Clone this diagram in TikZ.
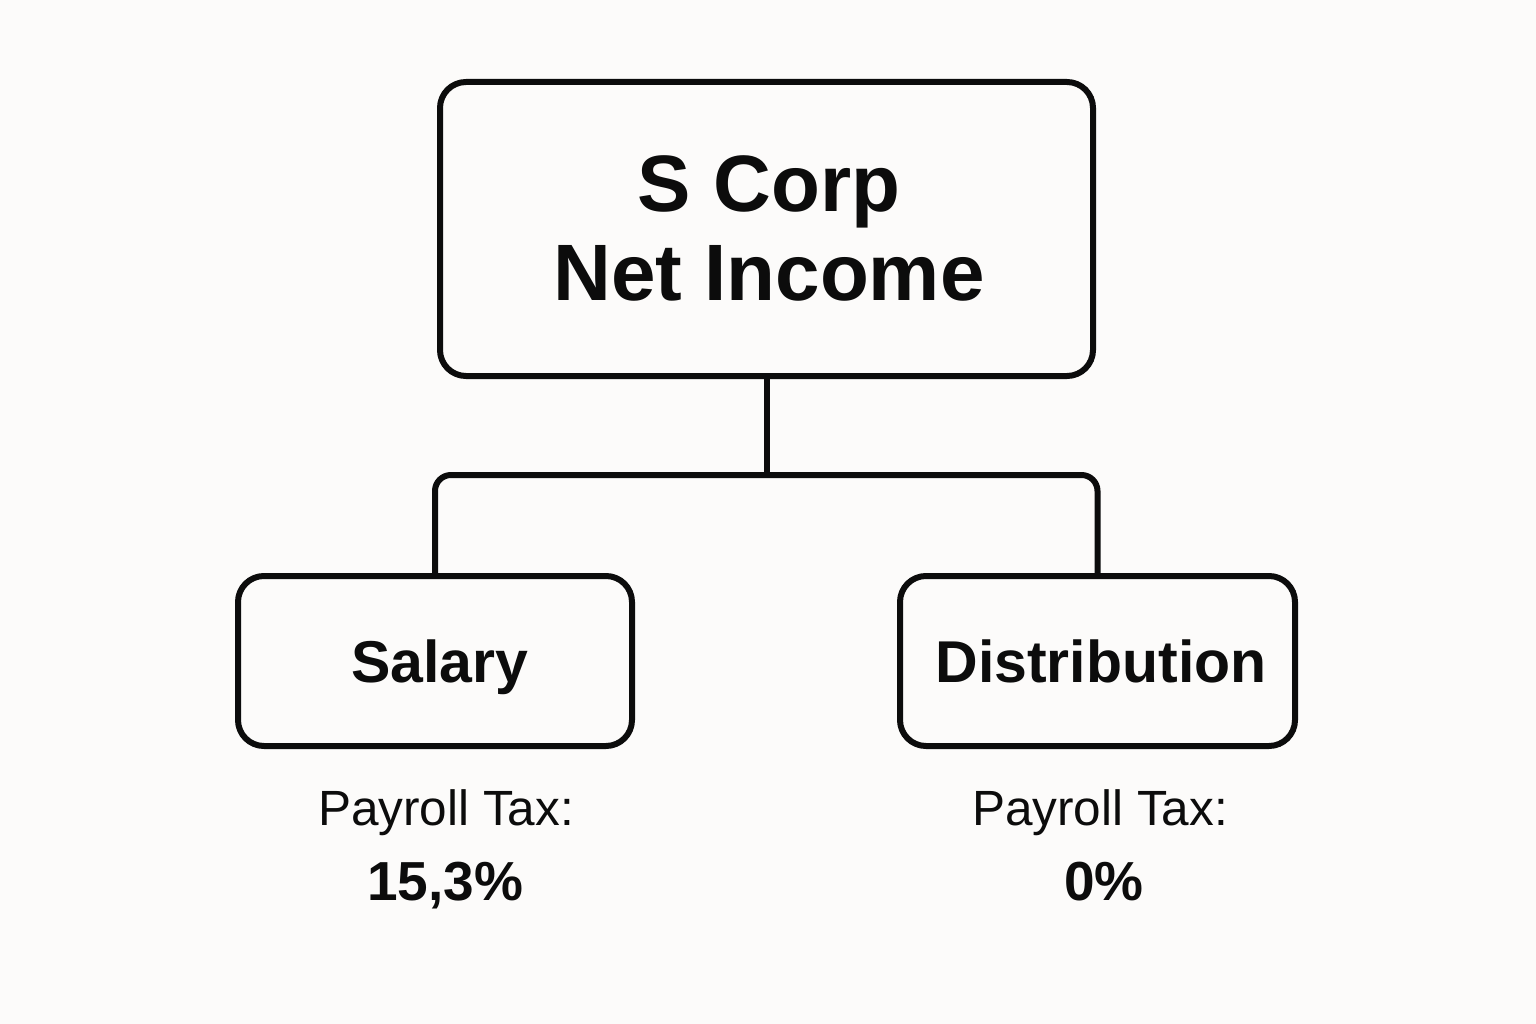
\documentclass[tikz,border=0pt]{standalone}
\usepackage{fontspec}
\setmainfont{Liberation Sans}
\definecolor{bg}{RGB}{252,251,250}
\definecolor{ink}{RGB}{12,12,12}
\begin{document}
\begin{tikzpicture}[x=1pt,y=-1pt,
  box/.style={draw=ink, line width=6pt, rounded corners=26pt, inner sep=0pt},
  conn/.style={draw=ink, line width=6pt, rounded corners=16pt},
  bigtxt/.style={anchor=base, text=ink, inner sep=0pt, font=\fontsize{80}{88}\selectfont\bfseries},
  midtxt/.style={anchor=base, text=ink, inner sep=0pt, font=\fontsize{59}{66}\selectfont\bfseries},
  taxtxt/.style={anchor=base, text=ink, inner sep=0pt, font=\fontsize{49.5}{56}\selectfont},
  pcttxt/.style={anchor=base, text=ink, inner sep=0pt, font=\fontsize{55}{62}\selectfont\bfseries}]
\fill[bg] (0,0) rectangle (1536,1024);
\useasboundingbox (0,0) rectangle (1536,1024);
% boxes
\node[box, minimum width=653pt, minimum height=294pt] (top) at (766.5,229) {};
\node[box, minimum width=394pt, minimum height=170pt] (sal) at (435,661) {};
\node[box, minimum width=395pt, minimum height=170pt] (dist) at (1097.5,661) {};
% texts
\node[bigtxt] (t1) at (769,212) {S Corp};
\node[bigtxt] (t2) at (769,300) {Net Income};
\node[midtxt] (salt) at (440,682) {Salary};
\node[midtxt] (distt) at (1101,682) {Distribution};
\node[taxtxt] (tax1) at (446,825) {Payroll Tax:};
\node[taxtxt] (tax2) at (1100,825) {Payroll Tax:};
\node[pcttxt] (p1) at (445,900) {15,3\%};
\node[pcttxt] (p2) at (1104,900) {0\%};
% connectors
\coordinate (bar) at (766.5,478);
\draw[conn] (top.south) -- (bar);
\draw[conn] (sal.north) -- ++(0,-98) -| (dist.north);
\end{tikzpicture}
\end{document}
